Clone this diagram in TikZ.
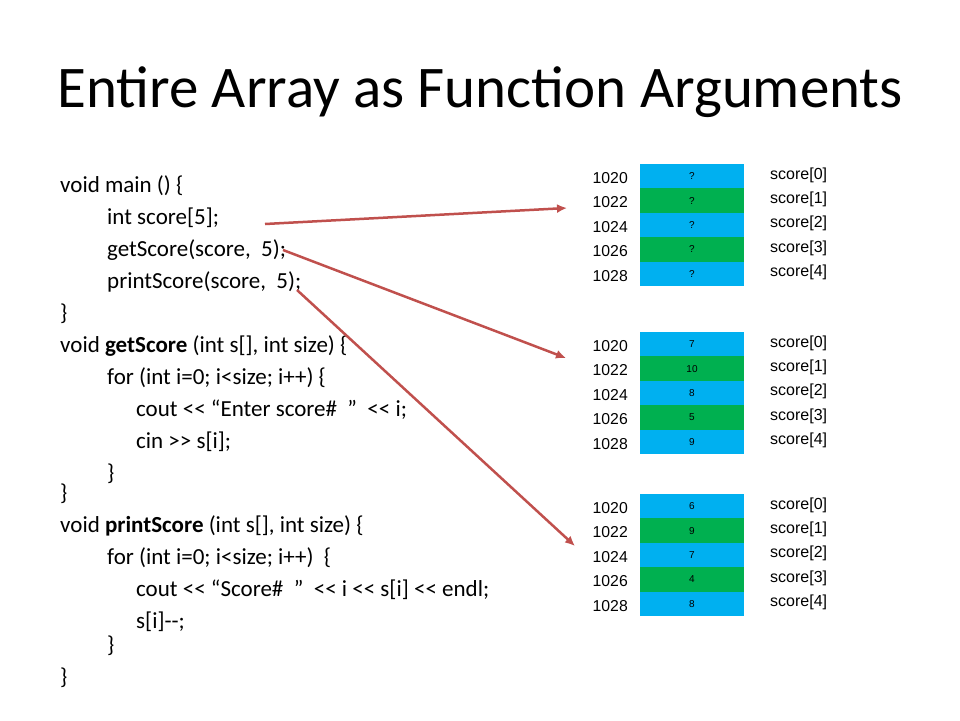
\documentclass[tikz,border=0pt]{standalone}
\usepackage{fontspec}
\setmainfont{Carlito}
\newfontfamily\arialfont{Liberation Sans}
\usetikzlibrary{arrows.meta}
\usetikzlibrary{positioning}
\definecolor{cellblue}{HTML}{00B0F0}
\definecolor{cellgreen}{HTML}{00B050}
\definecolor{arrowred}{HTML}{C0504D}
\newcommand\outop{<\kern0pt<}
\newcommand\inop{>\kern0pt>}

\begin{document}
\begin{tikzpicture}[x=1pt,y=-1pt,
    codeline/.style={anchor=west,inner sep=0pt,font=\fontsize{23}{26}\selectfont},
    cellbox/.style={minimum width=104pt,minimum height=24.4pt,inner sep=0pt,
      font=\arialfont\fontsize{10}{12}\selectfont},
    addr/.style={anchor=east,inner sep=0pt,font=\arialfont\fontsize{15.8}{18}\selectfont},
    elem/.style={anchor=west,inner sep=0pt,font=\arialfont\fontsize{16}{18}\selectfont},
    pointer/.style={draw=arrowred,line width=2.5pt,-{Latex[length=10pt,width=9pt]}}]
    \useasboundingbox (0,0) rectangle (960,720);
    \node (title) at (480,92) {\fontsize{59}{66}\selectfont Entire Array as Function Arguments};
    % code on the left
    \node[codeline] (l1)  at (60,186)  {void main () \{};
    \node[codeline] (l2)  at (107,218) {int score[5];};
    \node[codeline] (l3)  at (107,250) {getScore(score,\ \ 5);};
    \node[codeline] (l4)  at (107,282) {printScore(score,\ \ 5);};
    \node[codeline] (l5)  at (60,314)  {\}};
    \node[codeline] (l6)  at (60,346)  {void \textbf{getScore} (int s[], int size) \{};
    \node[codeline] (l7)  at (107,378) {for (int i=0; i<size; i++) \{};
    \node[codeline] (l8)  at (136,410) {cout \outop{} “Enter score\#\ \ ” \ \outop{} i;};
    \node[codeline] (l9)  at (136,442) {cin \inop{} s[i];};
    \node[codeline] (l10) at (107,474) {\}};
    \node[codeline] (l11) at (60,494)  {\}};
    \node[codeline] (l12) at (60,526)  {void \textbf{printScore} (int s[], int size) \{};
    \node[codeline] (l13) at (107,558) {for (int i=0; i<size; i++)\ \ \{};
    \node[codeline] (l14) at (136,590) {cout \outop{} “Score\#\ \ ” \ \outop{} i \outop{} s[i] \outop{} endl;};
    \node[codeline] (l15) at (136,622) {s[i]-\kern0pt-;};
    \node[codeline] (l16) at (107,646) {\}};
    \node[codeline] (l17) at (60,678)  {\}};
    % three memory pictures
    \foreach \blk/\top/\vals in {a/164/{?,?,?,?,?},b/332/{7,10,8,5,9},c/494/{6,9,7,4,8}} {
      \foreach \v [count=\i from 0] in \vals {
        \pgfmathsetmacro\addrnum{int(1020+2*\i)}
        \ifodd\i \def\fillc{cellgreen}\else\def\fillc{cellblue}\fi
        \node[cellbox,fill=\fillc] (\blk\i) at (692,\top+12.2+24.4*\i) {\v};
        \node[addr] at (628,\top+14+24.4*\i) {\addrnum};
        \node[elem] at (770,\top+11+24.4*\i) {score[\i]};
      }
    }
    % arrows
    \coordinate (s1) at (265,224);
    \coordinate (s2) at (283,250);
    \coordinate (s3) at (297,290);
    \coordinate (e1) at (567,208);
    \coordinate (e2) at (566,358);
    \coordinate (e3) at (575,546);
    \draw[pointer] (s1) -- (e1);
    \draw[pointer] (s2) -- (e2);
    \draw[pointer] (s3) -- (e3);
\end{tikzpicture}
\end{document}
